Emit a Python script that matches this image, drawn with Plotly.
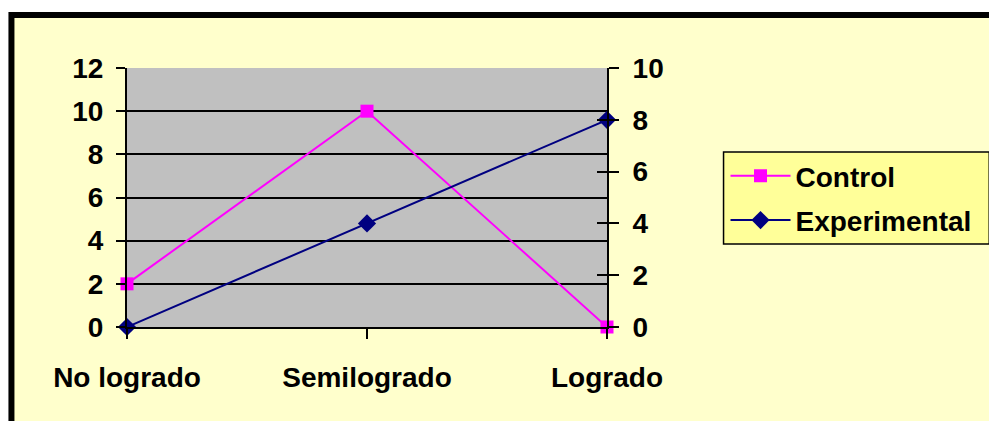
import plotly.graph_objects as go

categories = ["No logrado", "Semilogrado", "Logrado"]
control = [2, 10, 0]
experimental = [0, 4, 8]
left_ticks = [0, 2, 4, 6, 8, 10, 12]
right_ticks = [0, 2, 4, 6, 8, 10]

FONT = dict(family="Liberation Sans, Arial, sans-serif", size=28, color="black", weight="bold")

W, H = 989, 421
L, R, T, B = 127, 613, 68, 327
pw, ph = R - L, B - T

def px_x(p):
    return (p - L) / pw

def px_y(p):
    return (B - p) / ph

x_idx = list(range(len(categories)))

fig = go.Figure()
fig.add_trace(go.Scatter(
    x=x_idx, y=control, name="Control", mode="lines+markers",
    line=dict(color="#FF00FF", width=2),
    marker=dict(symbol="square", size=13, color="#FF00FF"),
    cliponaxis=False, legendgroup="a", yaxis="y"))
fig.add_trace(go.Scatter(
    x=x_idx, y=experimental, name="Experimental", mode="lines+markers",
    line=dict(color="#000080", width=2),
    marker=dict(symbol="diamond", size=14, color="#000080"),
    cliponaxis=False, legendgroup="b", yaxis="y2"))

shapes = [
    dict(type="rect", xref="paper", yref="paper", layer="below",
         x0=px_x(10), x1=px_x(1005), y0=px_y(440), y1=px_y(15),
         fillcolor="#FFFFCC", line=dict(color="black", width=6)),
    dict(type="rect", xref="paper", yref="paper", layer="below",
         x0=0, x1=1, y0=0, y1=1, fillcolor="#C0C0C0", line=dict(width=0)),
    # legend box (extends past the right edge, as in the reference)
    dict(type="rect", xref="paper", yref="paper", layer="below",
         x0=px_x(731), x1=px_x(1000), y0=px_y(244), y1=px_y(152),
         fillcolor="#FFFF99", line=dict(color="black", width=1.5)),
]

fig.update_layout(
    width=W, height=H,
    margin=dict(l=L, r=W - R, t=T, b=H - B, pad=0),
    paper_bgcolor="white", plot_bgcolor="#C0C0C0",
    font=FONT,
    shapes=shapes,
    showlegend=True,
    legend=dict(
        x=px_x(733), y=px_y(151), xanchor="left", yanchor="top",
        bgcolor="rgba(0,0,0,0)", borderwidth=0,
        font=FONT, traceorder="grouped", tracegroupgap=5,
        itemwidth=60, indentation=0),
    xaxis=dict(
        range=[0, 2], tickvals=x_idx, ticktext=categories,
        showgrid=False, zeroline=False, showline=True, linecolor="black", linewidth=2,
        ticks="outside", ticklen=10, tickwidth=1.5, tickcolor="black",
        ticklabelstandoff=14, tickfont=FONT),
    yaxis=dict(
        range=[0, 12], tickvals=left_ticks, showgrid=True, gridcolor="black", gridwidth=1.5,
        zeroline=False, showline=True, linecolor="black", linewidth=2,
        ticks="outside", ticklen=9, tickwidth=1.5, tickcolor="black",
        ticklabelstandoff=7, tickfont=FONT),
    yaxis2=dict(
        range=[0, 10], tickvals=right_ticks, overlaying="y", side="right",
        showgrid=False, zeroline=False, showline=True, linecolor="black", linewidth=2,
        ticks="outside", ticklen=10, tickwidth=1.5, tickcolor="black",
        ticklabelstandoff=8, tickfont=FONT),
    yaxis3=dict(
        range=[0, 10], tickvals=right_ticks, overlaying="y", side="right",
        showgrid=False, zeroline=False, showline=False, showticklabels=False,
        ticks="inside", ticklen=10, tickwidth=1.5, tickcolor="black"),
)
# invisible helper trace so the inside ticks of the right axis are drawn
fig.add_trace(go.Scatter(x=[0], y=[0], yaxis="y3", mode="markers",
                         marker=dict(opacity=0), showlegend=False, hoverinfo="skip"))

fig.write_html("out.html",
               config={"displayModeBar": False},
               post_script="document.body.style.margin='0';document.body.style.overflow='hidden';")
